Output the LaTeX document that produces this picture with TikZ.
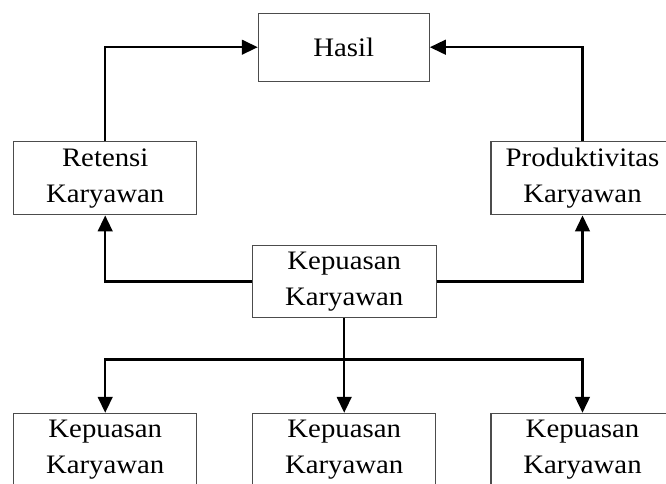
\documentclass[tikz,border=0pt]{standalone}
\usepackage{fontspec}
\setmainfont[FakeStretch=1.08]{Liberation Serif}
\usetikzlibrary{arrows.meta}
\begin{document}
\begin{tikzpicture}[x=0.75pt,y=-0.75pt,
  box/.style={draw=black!70, line width=0.8pt, rectangle, align=center,
    inner sep=0pt, font=\fontsize{20pt}{26.8pt}\selectfont},
  conn/.style={line width=1.8pt, draw=black},
  arr/.style={conn, -{Triangle[length=12pt,width=11pt]}}]
\useasboundingbox (0,0) rectangle (666,483);
\clip (0,0) rectangle (666,483);
\node[box, minimum width=128.25pt, minimum height=50.8pt] (hasil) at (343.8,47.2) {Hasil};
\node[box, minimum width=137.25pt, minimum height=54.75pt] (ret) at (105.2,178.4) {Retensi\\Karyawan};
\node[box, minimum width=137.25pt, minimum height=54.75pt] (prod) at (582.5,178.4) {Produktivitas\\Karyawan};
\node[box, minimum width=137.75pt, minimum height=54.5pt] (cen) at (344.2,281.4) {Kepuasan\\Karyawan};
\node[box, minimum width=137.25pt, minimum height=54.75pt] (b1) at (105.2,449.8) {Kepuasan\\Karyawan};
\node[box, minimum width=137.25pt, minimum height=54.75pt] (b2) at (344.2,449.8) {Kepuasan\\Karyawan};
\node[box, minimum width=137.25pt, minimum height=54.75pt] (b3) at (582.5,449.8) {Kepuasan\\Karyawan};
\coordinate (jn) at (344.2,359.3);
\draw[arr] (ret.north) |- (hasil.west);
\draw[arr] (prod.north) |- (hasil.east);
\draw[arr] (cen.west) -| (ret.south);
\draw[arr] (cen.east) -| (prod.south);
\draw[arr] (cen.south) -- (b2.north);
\draw[arr] (jn) -| (b1.north);
\draw[arr] (jn) -| (b3.north);
\end{tikzpicture}
\end{document}
